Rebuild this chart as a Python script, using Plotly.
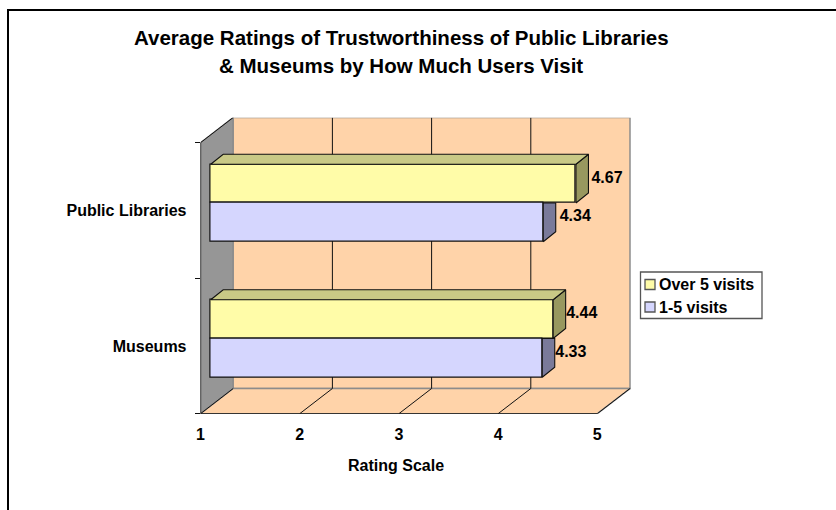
import plotly.graph_objects as go

categories = ["Museums", "Public Libraries"]
series_names = ["Over 5 visits", "1-5 visits"]
over_5_visits = [4.44, 4.67]
one_to_5_visits = [4.33, 4.34]
x_ticks = [1, 2, 3, 4, 5]
title_lines = ["Average Ratings of Trustworthiness of Public Libraries",
               "& Museums by How Much Users Visit"]
x_title = "Rating Scale"

W, H = 836, 510
PX_L, PX_R, PX_T, PX_B = 200.5, 631.0, 117.7, 413.7
UX, UY = 99.2, 135.5        # pixels per value unit / per category
WDX, WDY = 32.7 / UX, 25.2 / UY
BDX, BDY = 12.5 / UX, 10.0 / UY
BAR_H = 0.286
BAR_BASE = 0.269
X0 = 1 + 10.2 / UX
XPAD = 1.2 / UX
PEACH, WALL = "#FFD3A9", "#969696"
YELLOW, BLUE = "#FFFCA8", "#D5D6FE"
LINE = "#111111"
FONT = "Liberation Sans, Arial, sans-serif"
LABEL_NUDGE_OVER = [0.5 / UX, 3.0 / UX]
LABEL_NUDGE_ONE = [0.5 / UX, 4.0 / UX]

fig = go.Figure()

def bar_end(v):
    # the bars start at the 3-D gap in front of the wall, so value 1 sits at X0
    return X0 + (v - 1) + XPAD

def add_bars(name, values, offset, face):
    fig.add_trace(go.Bar(
        name=name, orientation="h",
        y=[k + BAR_BASE + offset + BAR_H / 2 for k in range(len(values))],
        x=[bar_end(v) - X0 for v in values], base=X0, width=BAR_H,
        marker=dict(color=face, line=dict(color=LINE, width=1.2)),
        showlegend=False, hoverinfo="skip"))

add_bars(series_names[0], over_5_visits, BAR_H, YELLOW)
add_bars(series_names[1], one_to_5_visits, 0, BLUE)

def poly(xs, ys, fill):
    fig.add_trace(go.Scatter(x=xs + xs[:1], y=ys + ys[:1], mode="lines", fill="toself",
                             fillcolor=fill, line=dict(color=LINE, width=1.1),
                             showlegend=False, hoverinfo="skip"))

for k, (a, b) in enumerate(zip(over_5_visits, one_to_5_visits)):
    y0, y1, y2 = k + BAR_BASE, k + BAR_BASE + BAR_H, k + BAR_BASE + 2 * BAR_H
    xb = bar_end(b)
    poly([xb, xb + BDX, xb + BDX, xb], [y0, y0 + BDY, y1, y1], "#7A7A9A")
    xa = bar_end(a)
    poly([xa, xa + BDX, xa + BDX, xa], [y1, y1 + BDY, y2 + BDY, y2], "#98985F")
    poly([X0, X0 + BDX, xa + BDX, xa], [y2, y2 + BDY, y2 + BDY, y2], "#C9C986")

    fig.add_trace(go.Scatter(
        x=[xa + BDX + LABEL_NUDGE_OVER[k], xb + BDX + LABEL_NUDGE_ONE[k]],
        y=[(y1 + y2) / 2 + BDY / 2, (y0 + y1) / 2 + BDY / 2],
        mode="text", text=[f"{a:.2f}", f"{b:.2f}"], textposition="middle right",
        textfont=dict(family=FONT, size=16, color="#000000", weight="bold"),
        showlegend=False, hoverinfo="skip"))

# invisible trace so the category axis is drawn
fig.add_trace(go.Scatter(x=[1, 1], y=[0.5, 1.5], yaxis="y2", mode="markers",
                         marker=dict(opacity=0), showlegend=False, hoverinfo="skip"))

def rect(xs, ys, fill, edge="#8C8C8C"):
    path = "M" + " L".join(f"{x},{y}" for x, y in zip(xs, ys)) + " Z"
    return dict(type="path", path=path, xref="x", yref="y", layer="below",
                fillcolor=fill, line=dict(color=edge, width=1.5))

def seg(x0, y0, x1, y1, color=LINE, width=1):
    return dict(type="line", x0=x0, y0=y0, x1=x1, y1=y1, xref="x", yref="y",
                layer="below", line=dict(color=color, width=width))

def paper_line(x0, y0, x1, y1, color="#000000", width=2):
    return dict(type="line", xref="paper", yref="paper",
                x0=x0 / W, x1=x1 / W, y0=1 - y0 / H, y1=1 - y1 / H,
                line=dict(color=color, width=width))

def paper_rect(x0, y0, x1, y1, fill, edge, width=1):
    return dict(type="rect", xref="paper", yref="paper",
                x0=x0 / W, x1=x1 / W, y0=1 - y0 / H, y1=1 - y1 / H,
                fillcolor=fill, line=dict(color=edge, width=width))

n = len(categories)
xmax = x_ticks[-1]
shapes = [
    rect([1, 1, 1 + WDX, 1 + WDX], [0, n, n + WDY, WDY], WALL),
    rect([1 + WDX, xmax + WDX, xmax + WDX, 1 + WDX], [WDY, WDY, n + WDY, n + WDY], PEACH),
    rect([1, xmax, xmax + WDX, 1 + WDX], [0, 0, WDY, WDY], PEACH),
]
for t in x_ticks[1:-1]:
    shapes.append(seg(t + WDX, WDY, t + WDX, n + WDY))
for t in x_ticks[1:]:
    shapes.append(seg(t, 0, t + WDX, WDY))
shapes += [seg(1, 0, xmax, 0, width=1.3), seg(1, 0, 1, n, width=1.3), seg(1, n, 1 + WDX, n + WDY, width=1),
           seg(1, 0, 1 + WDX, WDY, width=1)]
# outer frame of the picture
shapes += [paper_line(7, 10, W, 10), paper_line(8, 10, 8, H)]

# legend box, drawn to the reference's tight layout
LEG_X0, LEG_Y0, LEG_X1, LEG_Y1 = 640.5, 272, 762, 318.5
shapes.append(paper_rect(LEG_X0, LEG_Y0, LEG_X1, LEG_Y1, "white", "#555555", 1.3))
legend_rows = [(series_names[0], YELLOW, 284.5), (series_names[1], BLUE, 307)]
annotations = [
    dict(text=f"<b>{title_lines[0]}</b>", xref="paper", yref="paper", x=401 / W, y=1 - 38 / H,
         xanchor="center", yanchor="middle", showarrow=False, font=dict(family=FONT, size=20.5)),
    dict(text=f"<b>{title_lines[1]}</b>", xref="paper", yref="paper", x=401 / W, y=1 - 65 / H,
         xanchor="center", yanchor="middle", showarrow=False, font=dict(family=FONT, size=20.5)),
    dict(text=f"<b>{x_title}</b>", xref="paper", yref="paper", x=396 / W, y=1 - 465 / H,
         xanchor="center", yanchor="middle", showarrow=False, font=dict(family=FONT, size=16)),
]
for name, color, yc in legend_rows:
    shapes.append(paper_rect(645, yc - 5, 655, yc + 5, color, "#555555", 1.3))
    annotations.append(dict(text=f"<b>{name}</b>", xref="paper", yref="paper", x=659 / W, y=1 - yc / H,
                            xanchor="left", yanchor="middle", showarrow=False, xshift=-2,
                            font=dict(family=FONT, size=16)))

fig.update_layout(
    width=W, height=H, autosize=False,
    margin=dict(l=0, r=0, t=0, b=0, autoexpand=False),
    paper_bgcolor="white", plot_bgcolor="rgba(0,0,0,0)", showlegend=False,
    barmode="overlay", bargap=0, shapes=shapes, annotations=annotations,
    font=dict(family=FONT, size=16, color="#000000"),
    xaxis=dict(domain=[PX_L / W, PX_R / W], range=[1, 1 + (PX_R - PX_L) / UX],
               tickmode="array", tickvals=x_ticks, ticktext=[f"<b>{t}</b>" for t in x_ticks],
               showgrid=False, zeroline=False, showline=False, ticks="", ticklabelstandoff=9,
               tickfont=dict(family=FONT, size=16)),
    yaxis=dict(domain=[1 - PX_B / H, 1 - PX_T / H], range=[0, (PX_B - PX_T) / UY],
               tickmode="array", tickvals=[0, 1, 2], ticktext=["", "", ""],
               showgrid=False, zeroline=False, showline=False,
               ticks="outside", ticklen=5, tickcolor=LINE, tickwidth=1),
    yaxis2=dict(overlaying="y", side="left", range=[0, (PX_B - PX_T) / UY], anchor="x",
                tickmode="array", tickvals=[0.5, 1.5], ticktext=[f"<b>{c}</b>" for c in categories],
                showgrid=False, zeroline=False, showline=False, ticks="", ticklabelstandoff=13,
                tickfont=dict(family=FONT, size=16)),
)

fig.write_html("out.html", config=dict(displayModeBar=False),
               post_script="document.body.style.margin='0';document.body.style.overflow='hidden';")
